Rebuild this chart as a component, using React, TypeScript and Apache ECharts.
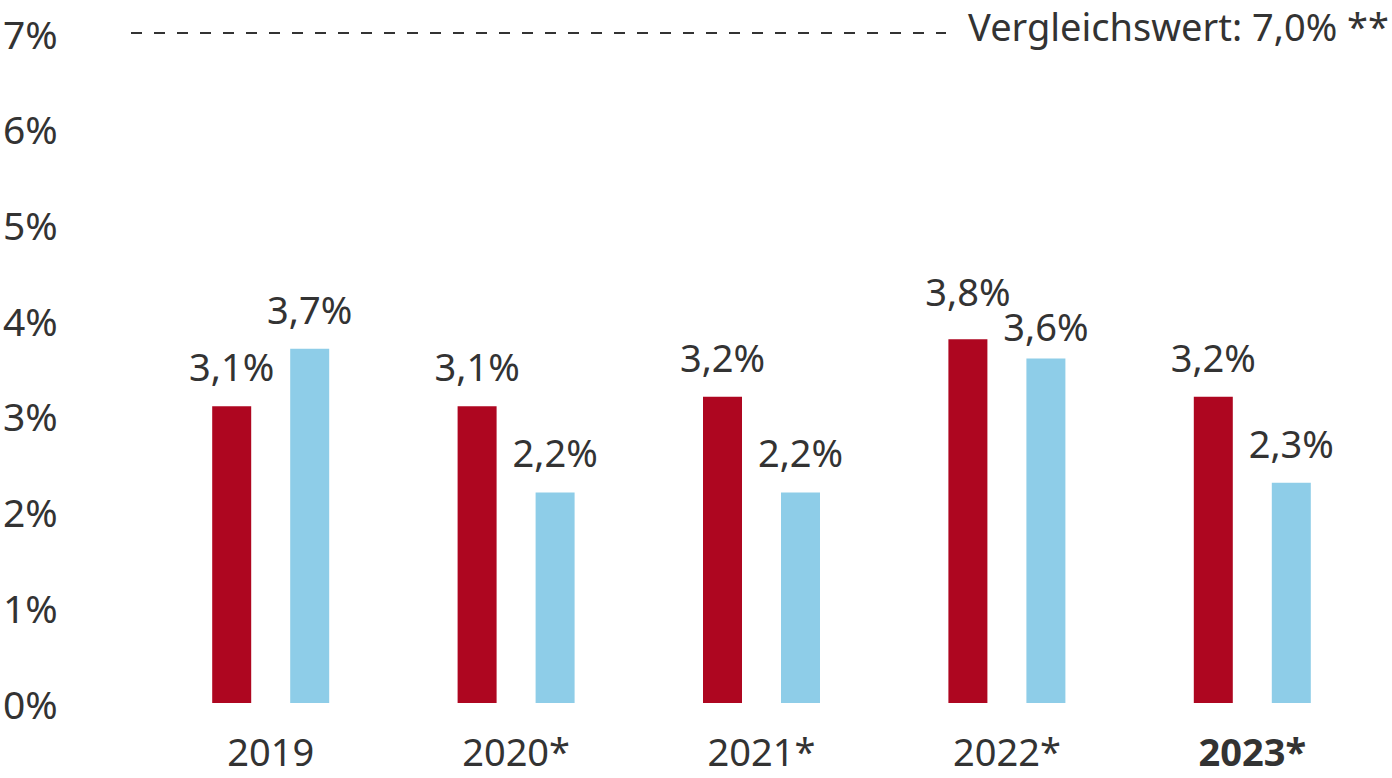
import React, { useEffect, useRef } from "react";
import * as echarts from "echarts";

const categories = ["2019", "2020*", "2021*", "2022*", "2023*"];
const redValues = [3.1, 3.1, 3.2, 3.8, 3.2];
const blueValues = [3.7, 2.2, 2.2, 3.6, 2.3];
const referenceValue = 7.0;
const referenceLabel = "Vergleichswert: 7,0% **";

const FONT = "'Noto Sans', sans-serif";
const TEXT = "#333333";

const fmt = (v: number) => v.toFixed(1).replace(".", ",") + "%";

export default function App() {
  const ref = useRef<HTMLDivElement>(null);
  useEffect(() => {
    if (!ref.current) return;
    const chart = echarts.init(ref.current, undefined, { renderer: "svg" });
    const labelStyle = {
      show: true,
      position: "top" as const,
      distance: 21,
      fontSize: 38,
      fontFamily: FONT,
      color: TEXT,
      formatter: (p: any) => fmt(p.value),
    };
    // 2022: labels staggered to avoid overlap
    const redData = redValues.map((v, i) => (i === 3 ? { value: v, label: { distance: 29 } } : v));
    const blueData = blueValues.map((v, i) => (i === 3 ? { value: v, label: { distance: 13 } } : v));
    chart.setOption({
      animation: false,
      textStyle: { fontFamily: FONT },
      grid: { left: 145, right: 17, top: 33, bottom: 75, containLabel: false },
      xAxis: {
        type: "category",
        data: categories.map((c, i) =>
          i === categories.length - 1 ? { value: c, textStyle: { fontWeight: "bold" } } : c
        ),
        axisLine: { show: false },
        axisTick: { show: false },
        axisLabel: { fontSize: 38, color: TEXT, fontFamily: FONT, margin: 29 },
      },
      yAxis: {
        type: "value",
        min: 0,
        max: 7,
        interval: 1,
        splitLine: { show: false },
        axisLine: { show: false },
        axisTick: { show: false },
        axisLabel: {
          fontSize: 39,
          color: TEXT,
          fontFamily: FONT,
          align: "left",
          margin: 145,
          formatter: (v: number) => v + "%",
        },
      },
      series: [
        {
          type: "bar",
          data: redData,
          barWidth: 39,
          barGap: "100%",
          itemStyle: { color: "#AE0620" },
          label: labelStyle,
        },
        {
          type: "bar",
          data: blueData,
          barWidth: 39,
          itemStyle: { color: "#8ECDE8" },
          label: labelStyle,
        },
      ],
    });
    const y = chart.convertToPixel({ yAxisIndex: 0 }, referenceValue) as number;
    chart.setOption({
      graphic: [
        {
          type: "line",
          shape: { x1: 131, y1: y, x2: 946, y2: y },
          style: { stroke: TEXT, lineWidth: 2, lineDash: [11, 12] },
        },
        {
          type: "text",
          x: 1389,
          y: y - 7,
          style: {
            text: referenceLabel,
            fontSize: 38,
            fontFamily: FONT,
            fill: TEXT,
            align: "right",
            verticalAlign: "middle",
          },
        },
      ],
    });
    return () => chart.dispose();
  }, []);
  return (
    <div
      ref={ref}
      style={{ position: "fixed", left: 0, top: 0, width: 1392, height: 778, background: "#fff" }}
    />
  );
}
